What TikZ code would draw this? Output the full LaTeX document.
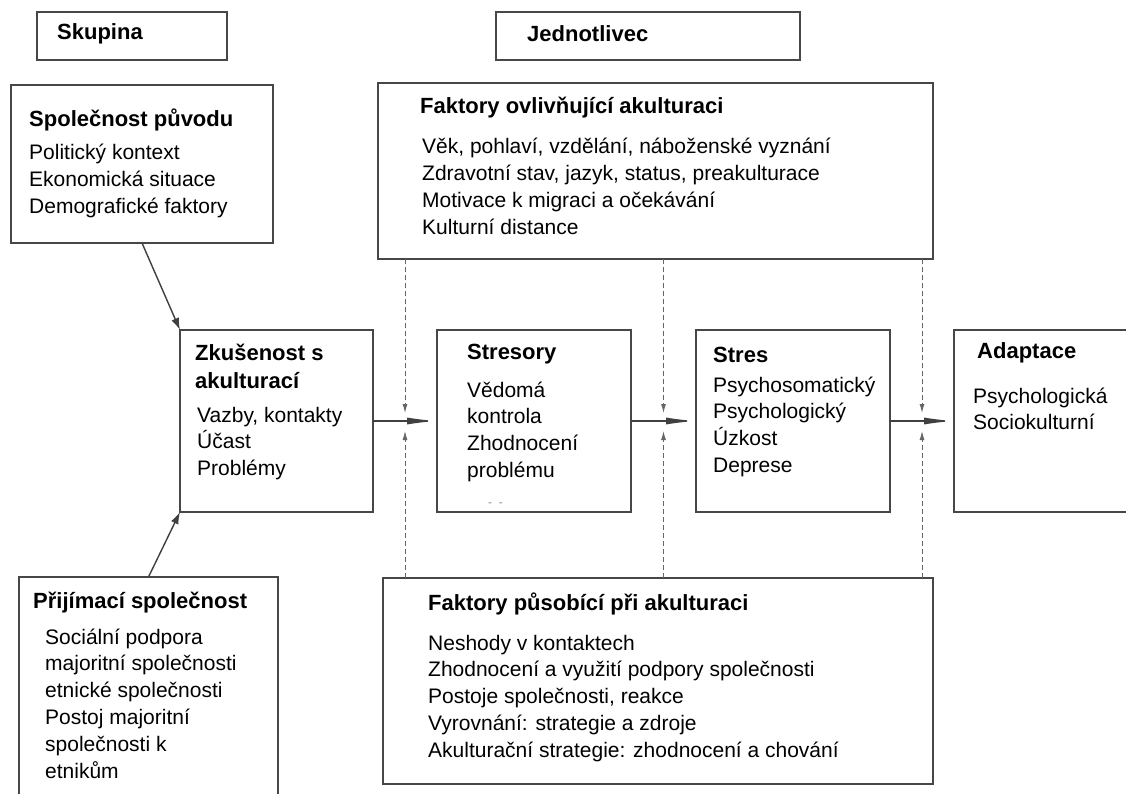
\documentclass[tikz,border=0pt]{standalone}
\usepackage{fontspec}
\setmainfont{Liberation Sans}
\usetikzlibrary{arrows.meta,calc}
\begin{document}
\begin{tikzpicture}[x=1pt,y=-1pt,
 boxst/.style={draw=black!72, line width=1.1pt, inner sep=0pt, outer sep=0pt, anchor=north west},
 ttl/.style={font=\fontsize{22}{28}\selectfont\bfseries, anchor=base west, inner sep=0pt, align=left},
 txt/.style={font=\fontsize{21}{26.8}\selectfont, anchor=base west, inner sep=0pt, align=left},
 arr/.style={draw=black!75, line width=1.4pt, -{Latex[length=30pt,width=7pt]}},
 diag/.style={draw=black!75, line width=1.4pt, -{Latex[length=12pt,width=8pt]}},
 darr/.style={draw=black!60, line width=1pt, dash pattern=on 5pt off 3pt, -{Latex[length=9pt,width=5pt]}}
]
\useasboundingbox (0,0) rectangle (1126,794);
\clip (0,0) rectangle (1126,794);
\fill[white] (0,0) rectangle (1126,794);

% header boxes
\node[boxst, minimum width=190pt, minimum height=48pt] (skup) at (37,12) {};
\node[ttl] (skupt) at (57,40) {Skupina};
\node[boxst, minimum width=304pt, minimum height=48pt] (jedn) at (496,12) {};
\node[ttl] (jednt) at (527,42) {Jednotlivec};

% Spolecnost puvodu (base anchor = last line)
\node[boxst, minimum width=262pt, minimum height=158pt] (orig) at (11,85) {};
\node[ttl] (origt) at (29,127) {Společnost původu};
\node[txt] (origb) at (29,213.6) {Politický kontext\\Ekonomická situace\\Demografické faktory};

% Prijimaci spolecnost
\node[boxst, minimum width=259pt, minimum height=240pt] (pri) at (19,577) {};
\node[ttl] (prit) at (33,608) {Přijímací společnost};
\node[txt] (prib) at (45,778) {Sociální podpora\\majoritní společnosti\\etnické společnosti\\Postoj majoritní\\společnosti k\\etnikům};

% Faktory ovlivnujici akulturaci
\node[boxst, minimum width=555pt, minimum height=176pt] (fo) at (378,83) {};
\node[ttl] (fot) at (420,114) {Faktory ovlivňující akulturaci};
\node[txt] (fob) at (422,234.4) {Věk, pohlaví, vzdělání, náboženské vyznání\\Zdravotní stav, jazyk, status, preakulturace\\Motivace k migraci a očekávání\\Kulturní distance};

% Faktory pusobici pri akulturaci
\node[boxst, minimum width=550pt, minimum height=206pt] (fp) at (383,578) {};
\node[ttl] (fpt) at (428,610) {Faktory působící při akulturaci};
\node[txt] (fpb) at (428,757.2) {Neshody v kontaktech\\Zhodnocení a využití podpory společnosti\\Postoje společnosti, reakce\\Vyrovnání: strategie a zdroje\\Akulturační strategie: zhodnocení a chování};

% middle row
\node[boxst, minimum width=193pt, minimum height=182pt] (zk) at (180,330) {};
\node[ttl] (zkt) at (195,388) {Zkušenost s\\akulturací};
\node[txt] (zkb) at (197,475.6) {Vazby, kontakty\\Účast\\Problémy};

\node[boxst, minimum width=194pt, minimum height=182pt] (str) at (437,330) {};
\node[ttl] (strt) at (467,359) {Stresory};
\node[txt] (strb) at (467,477.4) {Vědomá\\kontrola\\Zhodnocení\\problému};
\node[anchor=base west, inner sep=0pt, text=black!45, font=\fontsize{12}{12}\selectfont] (strd) at (488,506) {-\ \ -};

\node[boxst, minimum width=194pt, minimum height=182pt] (stres) at (696,330) {};
\node[ttl] (strest) at (713,362) {Stres};
\node[txt] (stresb) at (713,472.4) {Psychosomatický\\Psychologický\\Úzkost\\Deprese};

\node[boxst, minimum width=180pt, minimum height=182pt] (adap) at (954,330) {};
\node[ttl] (adapt) at (977,358) {Adaptace};
\node[txt] (adapb) at (973,429.8) {Psychologická\\Sociokulturní};

% connectors
\draw[diag] (orig.south) -- (zk.north west);
\draw[diag] (pri.north) -- (zk.south west);

\draw[arr] (zk.east) -- (str.west);
\draw[arr] (str.east) -- (stres.west);
\draw[arr] (stres.east) -- (adap.west);

\coordinate (m1) at ($(zk.east)!0.5!(str.west)$);
\coordinate (m2) at ($(str.east)!0.5!(stres.west)$);
\coordinate (m3) at ($(stres.east)!0.5!(adap.west)$);

\foreach \m in {m1,m2,m3}{
  \draw[darr] (fo.south -| \m) -- ([yshift=8pt]\m);
  \draw[darr] (fp.north -| \m) -- ([yshift=-10pt]\m);
}
\end{tikzpicture}
\end{document}
